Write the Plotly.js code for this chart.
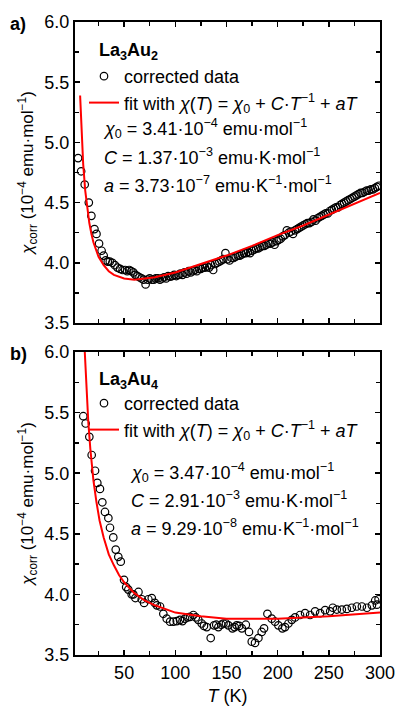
<!DOCTYPE html>
<html>
<head>
<meta charset="utf-8">
<script src="https://cdn.plot.ly/plotly-3.0.1.min.js"></script>
<style>html,body{margin:0;padding:0;background:#fff;}#chart{width:397px;height:706px;}</style>
</head>
<body>
<div id="chart"></div>
<script>
// ---- Panel a) La3Au2 : corrected data (T in K, chi in 1e-4 emu/mol)
const tA = [5,8,11.5,15.5,18,21,23,25.5,28,30,32,34,36,38.5,41,43.5,46,48.5,51,53,55,57,59,61,63,65,67,69,71,73,75,77,79,81,83,85,87,89,91,93,95,97,99,101,103,105,107,109,111,113,115,117,119,121,123,125,127,129,131,133,135,137,139,141,143,145,147,149,151,153,155,157,159,161,163,165,167,169,171,173,175,177,179,181,183,185,187,189,191,193,195,197,199,201,203,205,207,209,211,213,215,217,219,221,223,225,227,229,231,233,235,237,239,241,243,245,247,249,251,253,255,257,259,261,263,265,267,269,271,273,275,277,279,281,283,285,287,289,291,293,295,297,299];
const chiA = [4.87,4.76,4.65,4.50,4.39,4.28,4.24,4.16,4.10,4.06,4.02,4.01,4.01,4.00,3.98,3.96,3.95,3.94,3.94,3.93,3.94,3.93,3.92,3.90,3.89,3.88,3.87,3.86,3.82,3.86,3.87,3.86,3.86,3.87,3.87,3.86,3.87,3.88,3.87,3.89,3.885,3.89,3.90,3.89,3.90,3.91,3.90,3.92,3.91,3.93,3.92,3.93,3.94,3.93,3.95,3.95,3.96,3.96,3.97,3.96,3.98,3.94,3.99,4.00,4.01,4.02,4.03,4.08,4.03,4.02,4.04,4.04,4.05,4.06,4.06,4.07,4.08,4.08,4.09,4.08,4.10,4.11,4.12,4.12,4.13,4.14,4.14,4.15,4.16,4.16,4.17,4.15,4.18,4.19,4.20,4.22,4.23,4.27,4.25,4.26,4.24,4.27,4.28,4.29,4.30,4.31,4.32,4.33,4.33,4.34,4.36,4.35,4.37,4.38,4.39,4.40,4.41,4.41,4.43,4.44,4.45,4.46,4.46,4.48,4.49,4.50,4.51,4.52,4.53,4.54,4.55,4.56,4.57,4.58,4.58,4.59,4.60,4.60,4.61,4.61,4.62,4.63,4.64];
// Panel a) fit curve values
const tFitA = [7,8,9,10,12,14,16,18,20,25,30,35,40,50,60,70,80,100,125,150,175,200,225,250,275,300];
const chiFitA = [5.39,5.15,4.97,4.82,4.60,4.44,4.33,4.24,4.17,4.05,3.98,3.93,3.90,3.87,3.86,3.87,3.88,3.92,3.99,4.06,4.14,4.23,4.31,4.40,4.49,4.58];

// ---- Panel b) La3Au4 : corrected data
const tB = [10.1,12.4,16,18.3,21.6,23.8,26.4,28.7,31.3,34.6,36.2,39.4,41.8,44.3,46.7,49.9,52,54.1,57.4,59,61,64,67.2,69.5,73.7,77,80,82,85.1,88.3,91.6,94.9,98.1,101.4,104.6,107,109.5,112,114.4,117.6,120,122.5,125.8,128,130.7,134.6,137.9,140,142.1,145,147,149.5,151.9,155.8,158,160,162.5,165,168.9,172,174.7,177.9,181.2,184.4,186.7,190,194.2,197.5,200.7,204.6,207.2,210.5,213.8,217,221.9,226.8,231.7,236.6,241.5,246.4,251.3,253.9,257.8,262.7,267.6,272.5,277.4,282.3,287.2,292.1,295.3,297,298.6];
const chiB = [5.47,5.41,5.30,5.15,5.02,4.92,4.87,4.76,4.68,4.63,4.55,4.47,4.37,4.31,4.27,4.12,4.06,4.04,4.00,4.00,3.97,4.02,3.96,3.93,3.96,3.97,3.93,3.91,3.90,3.84,3.80,3.775,3.775,3.78,3.79,3.78,3.80,3.81,3.815,3.83,3.81,3.79,3.76,3.74,3.73,3.64,3.745,3.75,3.73,3.75,3.76,3.76,3.745,3.72,3.73,3.745,3.74,3.72,3.75,3.69,3.61,3.60,3.64,3.69,3.72,3.84,3.80,3.775,3.745,3.72,3.73,3.76,3.79,3.81,3.83,3.845,3.83,3.86,3.845,3.87,3.86,3.89,3.875,3.875,3.88,3.89,3.90,3.90,3.89,3.91,3.95,3.915,3.96];
// Panel b) fit curve values
const tFitB = [11.5,12,13,14,15,17,20,23,26,30,35,40,45,50,60,70,80,100,125,150,175,200,250,300];
const chiFitB = [6.01,5.91,5.72,5.56,5.42,5.20,4.94,4.76,4.61,4.47,4.33,4.24,4.16,4.10,4.01,3.95,3.91,3.85,3.82,3.80,3.80,3.80,3.82,3.85];

const xTickVals = [50,100,150,200,250,300];
const yTickVals = [3.5,4.0,4.5,5.0,5.5,6.0];

const FONT = 'Arial, "Liberation Sans", sans-serif';
const markerStyle = {symbol:'circle-open', size:7.5, color:'#000', line:{width:1.2, color:'#000'}};
const fitStyle = {color:'#ff0000', width:2};
const fitName = 'fit with <i>χ</i>(<i>T</i>) = <i>χ</i><sub>0</sub> + <i>C</i>·<i>T</i><sup>−1</sup> + <i>aT</i>';

const traces = [
  {x:tA, y:chiA, type:'scatter', mode:'markers', marker:markerStyle, name:'corrected data', xaxis:'x', yaxis:'y', legend:'legend'},
  {x:tFitA, y:chiFitA, type:'scatter', mode:'lines', line:fitStyle, name:fitName, xaxis:'x', yaxis:'y', legend:'legend'},
  {x:tB, y:chiB, type:'scatter', mode:'markers', marker:markerStyle, name:'corrected data', xaxis:'x2', yaxis:'y2', legend:'legend2'},
  {x:tFitB, y:chiFitB, type:'scatter', mode:'lines', line:fitStyle, name:fitName, xaxis:'x2', yaxis:'y2', legend:'legend2'}
];

const minorX = {dtick:25, tick0:0, ticks:'inside', ticklen:4, tickwidth:1.5, tickcolor:'#000'};
const minorY = {dtick:0.25, tick0:0, ticks:'inside', ticklen:4, tickwidth:1.5, tickcolor:'#000'};
const axisCommon = {
  showline:true, linewidth:2, linecolor:'#000', mirror:'ticks',
  ticks:'inside', ticklen:5, tickwidth:1.5, tickcolor:'#000',
  showgrid:false, zeroline:false,
  tickfont:{family:FONT, size:18, color:'#000'}
};
const yTitle = '<i>χ</i><sub>corr</sub> (10<sup>−4</sup> emu·mol<sup>−1</sup>)';

const pY = v => (655 - v) / 633;
const pX = v => (v - 75) / 305;

const annFont = {family:FONT, size:18, color:'#000'};
const ann = (txt, px, py, extra) => Object.assign({text:txt, xref:'paper', yref:'paper', x:pX(px), y:pY(py), xanchor:'left', yanchor:'middle', showarrow:false, font:annFont}, extra||{});

const legendCommon = {xanchor:'left', yanchor:'top', bgcolor:'rgba(0,0,0,0)', font:{family:FONT, size:18, color:'#000'}, tracegroupgap:0};

const layout = {
  width:397, height:706,
  margin:{l:75, r:17, t:22, b:51},
  paper_bgcolor:'#fff', plot_bgcolor:'#fff',
  font:{family:FONT, color:'#000'},
  showlegend:true,
  xaxis: Object.assign({}, axisCommon, {range:[2,300], tickvals:xTickVals, showticklabels:false, anchor:'y', minor:minorX}),
  yaxis: Object.assign({}, axisCommon, {range:[3.5,6.0], domain:[0.5245,1], tickvals:yTickVals, ticktext:yTickVals.map(v=>v.toFixed(1)), anchor:'x', minor:minorY,
    title:{text:yTitle, font:{family:FONT, size:17, color:'#000'}, standoff:6}}),
  xaxis2: Object.assign({}, axisCommon, {range:[2,300], tickvals:xTickVals, anchor:'y2', minor:minorX,
    title:{text:'<i>T</i> (K)', font:{family:FONT, size:18, color:'#000'}, standoff:8}}),
  yaxis2: Object.assign({}, axisCommon, {range:[3.5,6.0], domain:[0,0.4787], tickvals:yTickVals, ticktext:yTickVals.map(v=>v.toFixed(1)), anchor:'x2', minor:minorY,
    title:{text:yTitle, font:{family:FONT, size:17, color:'#000'}, standoff:6}}),
  legend: Object.assign({x:pX(84), y:pY(58)}, legendCommon),
  legend2: Object.assign({x:pX(84), y:pY(385)}, legendCommon),
  annotations:[
    ann('<b>a)</b>', 8, 24),
    ann('<b>b)</b>', 8, 354),
    ann('<b>La<sub>3</sub>Au<sub>2</sub></b>', 97, 51),
    ann('<b>La<sub>3</sub>Au<sub>4</sub></b>', 97, 380),
    ann('<i>χ</i><sub>0</sub> = 3.41·10<sup>−4</sup> emu·mol<sup>−1</sup>', 101, 128),
    ann('<i>C</i> = 1.37·10<sup>−3</sup> emu·K·mol<sup>−1</sup>', 102, 156),
    ann('<i>a</i> = 3.73·10<sup>−7</sup> emu·K<sup>−1</sup>·mol<sup>−1</sup>', 102, 184),
    ann('<i>χ</i><sub>0</sub> = 3.47·10<sup>−4</sup> emu·mol<sup>−1</sup>', 128, 472),
    ann('<i>C</i> = 2.91·10<sup>−3</sup> emu·K·mol<sup>−1</sup>', 129, 500),
    ann('<i>a</i> = 9.29·10<sup>−8</sup> emu·K<sup>−1</sup>·mol<sup>−1</sup>', 129, 527)
  ]
};

Plotly.newPlot('chart', traces, layout, {displayModeBar:false, staticPlot:true});
</script>
</body>
</html>
